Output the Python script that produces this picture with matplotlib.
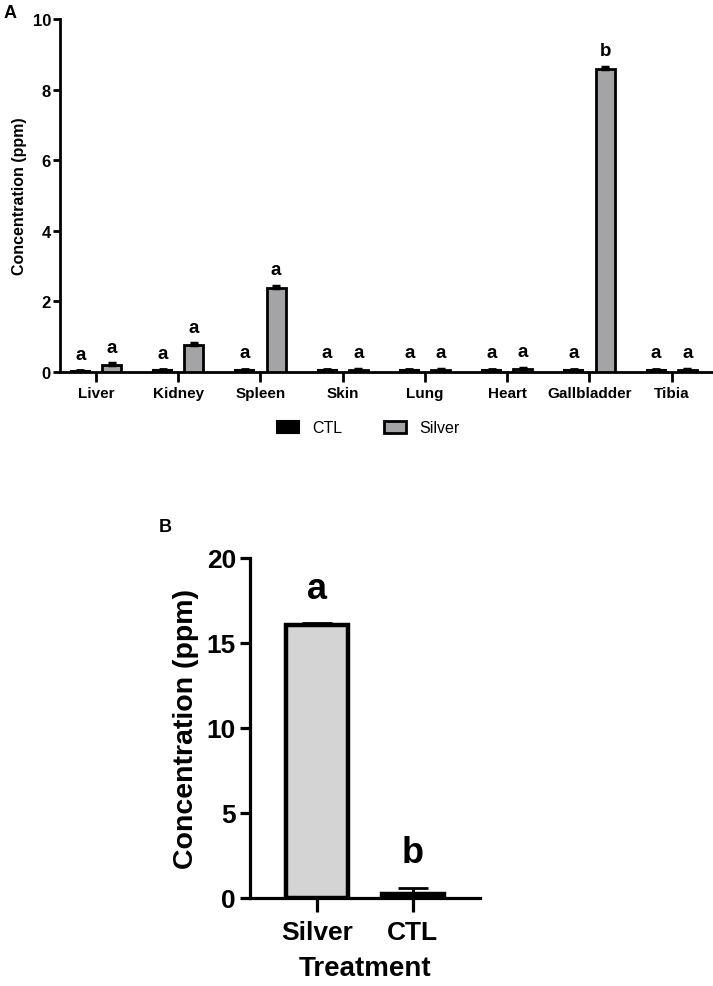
import matplotlib
matplotlib.use("Agg")
import matplotlib.pyplot as plt
import numpy as np
from matplotlib.patches import Patch

plt.rcParams['font.family'] = ['Liberation Sans', 'DejaVu Sans']

# ---- Panel A data ----
organs = ['Liver', 'Kidney', 'Spleen', 'Skin', 'Lung', 'Heart', 'Gallbladder', 'Tibia']
ctl_vals = [0.03, 0.05, 0.06, 0.06, 0.06, 0.06, 0.06, 0.06]
ctl_err = [0.02, 0.03, 0.03, 0.03, 0.03, 0.03, 0.03, 0.03]
silver_vals = [0.20, 0.77, 2.39, 0.06, 0.06, 0.09, 8.58, 0.06]
silver_err = [0.05, 0.04, 0.05, 0.03, 0.03, 0.03, 0.07, 0.03]
ctl_letters = ['a', 'a', 'a', 'a', 'a', 'a', 'a', 'a']
silver_letters = ['a', 'a', 'a', 'a', 'a', 'a', 'b', 'a']
yticks_a = [0, 2, 4, 6, 8, 10]

# ---- Panel B data ----
treatments = ['Silver', 'CTL']
treat_vals = [16.06, 0.25]
treat_err = [0.1, 0.35]
treat_letters = ['a', 'b']
yticks_b = [0, 5, 10, 15, 20]

W, H = 713, 987
fig = plt.figure(figsize=(W / 100, H / 100), dpi=100)

def ax_rect(l, t, r, b):
    return [l / W, 1 - b / H, (r - l) / W, (b - t) / H]

# ---------------- Panel A ----------------
axA = fig.add_axes(ax_rect(60, 20, 712, 373))
x = np.arange(len(organs))
bw = 0.23
off = 0.19
axA.bar(x - off, ctl_vals, bw, color='black', edgecolor='black', linewidth=1.5, zorder=3)
axA.bar(x + off, silver_vals, bw, color='#a4a4a7', edgecolor='black', linewidth=2.0, zorder=3)
axA.errorbar(x - off, ctl_vals, yerr=[np.zeros(len(x)), ctl_err], fmt='none',
             ecolor='black', elinewidth=1.5, capsize=3, capthick=2, zorder=4)
axA.errorbar(x + off, silver_vals, yerr=[np.zeros(len(x)), silver_err], fmt='none',
             ecolor='black', elinewidth=1.5, capsize=3, capthick=2.5, zorder=4)
for i in range(len(organs)):
    axA.text(x[i] - off, ctl_vals[i] + ctl_err[i] + 0.33, ctl_letters[i],
             ha='center', va='baseline', fontsize=13.5, fontweight='bold')
    axA.text(x[i] + off, silver_vals[i] + silver_err[i] + 0.33, silver_letters[i],
             ha='center', va='baseline', fontsize=13.5, fontweight='bold')
axA.set_xlim(-0.437, 7.49)
axA.set_ylim(0, 10)
axA.set_yticks(yticks_a)
axA.set_yticklabels([str(v) for v in yticks_a], fontsize=12, fontweight='bold')
axA.set_xticks(x)
axA.set_xticklabels(organs, fontsize=11, fontweight='bold')
axA.set_ylabel('Concentration (ppm)', fontsize=11.5, fontweight='semibold', labelpad=4)
for s in ['top', 'right']:
    axA.spines[s].set_visible(False)
for s in ['left', 'bottom']:
    axA.spines[s].set_linewidth(2)
axA.tick_params(axis='y', length=5, width=2, pad=1.5)
axA.tick_params(axis='x', length=7, width=2, pad=3)
handles = [Patch(facecolor='black', edgecolor='black', linewidth=1.5, label='CTL'),
           Patch(facecolor='#a4a4a7', edgecolor='black', linewidth=2, label='Silver')]
fig.legend(handles=handles, loc='center', bbox_to_anchor=(368 / W, 1 - 429 / H),
           ncol=2, frameon=False, fontsize=11.5, handlelength=1.4, handleheight=0.75,
           columnspacing=2.6, handletextpad=0.8)
fig.text(10 / W, 1 - 14 / H, 'A', fontsize=13, fontweight='bold', ha='center', va='center')

# ---------------- Panel B ----------------
axB = fig.add_axes(ax_rect(250, 559, 480, 899))
xb = np.arange(len(treatments))
axB.bar(xb, treat_vals, 0.65, color=['#d4d4d4', 'black'], edgecolor='black',
        linewidth=3.2, zorder=3)
axB.errorbar(xb, treat_vals, yerr=[np.zeros(len(xb)), treat_err], fmt='none',
             ecolor='black', elinewidth=2, capsize=11, capthick=2, zorder=4)
for i in range(len(treatments)):
    axB.text(xb[i], treat_vals[i] + treat_err[i] + 1.5, treat_letters[i],
             ha='center', va='baseline', fontsize=26, fontweight='bold')
axB.set_xlim(-0.698, 1.70)
axB.set_ylim(0, 20)
axB.set_yticks(yticks_b)
axB.set_yticklabels([str(v) for v in yticks_b], fontsize=19, fontweight='bold')
axB.set_xticks(xb)
axB.set_xticklabels(treatments, fontsize=19, fontweight='bold')
axB.set_ylabel('Concentration (ppm)', fontsize=20.5, fontweight='bold', labelpad=6)
axB.set_xlabel('Treatment', fontsize=20, fontweight='bold', labelpad=8)
for s in ['top', 'right']:
    axB.spines[s].set_visible(False)
for s in ['left', 'bottom']:
    axB.spines[s].set_linewidth(2.3)
axB.tick_params(axis='y', length=7, width=2.3, pad=3)
axB.tick_params(axis='x', length=10, width=2.3, pad=6)
fig.text(165 / W, 1 - 528 / H, 'B', fontsize=13, fontweight='bold', ha='center', va='center')

fig.savefig('out.png', dpi=100)
